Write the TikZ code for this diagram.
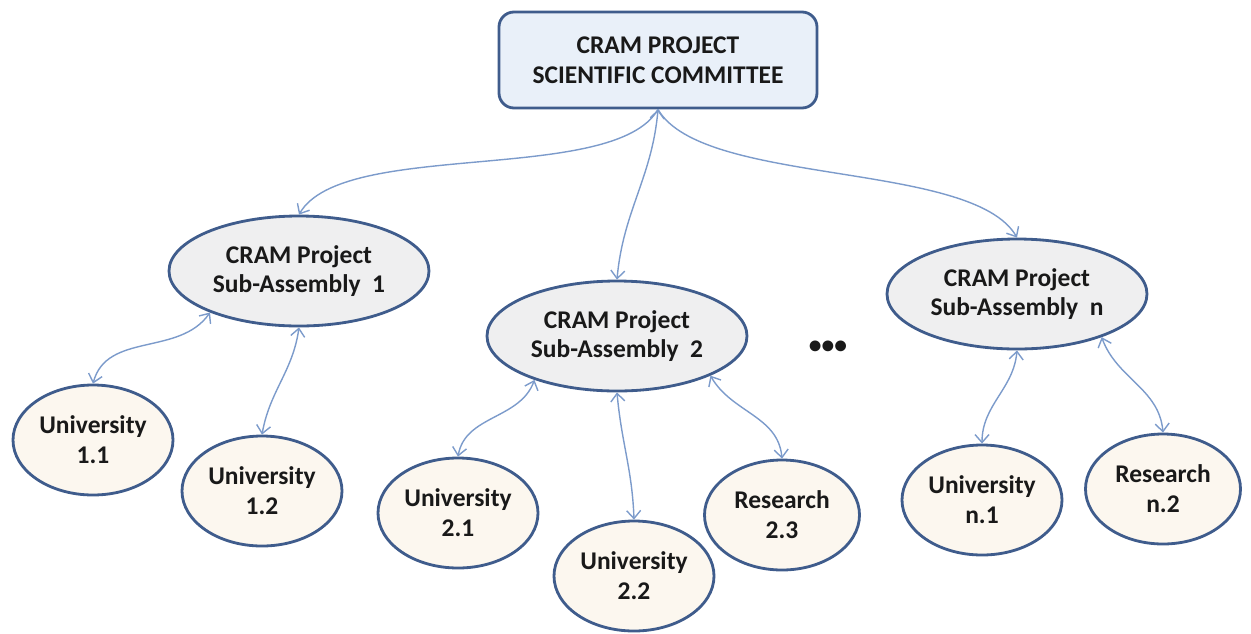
\documentclass[tikz,border=0pt]{standalone}
\usepackage{fontspec}
\setmainfont{Carlito}
\usetikzlibrary{shapes.geometric,arrows.meta}
\definecolor{boxline}{HTML}{3F5C8C}
\definecolor{topfill}{HTML}{E9F0F9}
\definecolor{subfill}{HTML}{EFEFF0}
\definecolor{unifill}{HTML}{FCF7EF}
\definecolor{linkblue}{HTML}{7C9BCB}

\begin{document}
\begin{tikzpicture}[
    boxstyle/.style={draw=boxline, line width=1.6pt, align=center, inner sep=0pt, text=black!90, font=\fontsize{14.5}{17}\selectfont\bfseries},
    topbox/.style={boxstyle, rectangle, rounded corners=0.3cm, fill=topfill, minimum width=6.36cm, minimum height=1.92cm},
    subbox/.style={boxstyle, ellipse, fill=subfill, minimum width=5.2cm, minimum height=2.2cm},
    unibox/.style={boxstyle, ellipse, fill=unifill, minimum width=3.2cm, minimum height=2.2cm},
    resbox/.style={unibox, minimum width=3.1cm},
    arrow/.style={->, >={Straight Barb[length=1.6mm,width=2.8mm]}, line width=0.8pt, linkblue},
    dblarrow/.style={arrow, <->}
]
\useasboundingbox (0,0) rectangle (25.02,-12.66);

% Committee (top)
\node[topbox] (committee) at (13.16,-1.2) {CRAM PROJECT\\SCIENTIFIC COMMITTEE};

% Sub-assemblies (middle row)
\node[subbox] (sa1) at (5.98,-5.42) {CRAM Project\\Sub-Assembly\ \ 1};
\node[subbox] (sa2) at (12.34,-6.72) {CRAM Project\\Sub-Assembly\ \ 2};
\node[subbox] (san) at (20.34,-5.88) {CRAM Project\\Sub-Assembly\ \ n};
\node[font=\fontsize{14.5}{14.5}\selectfont\bfseries, text=black!90] (dots) at (16.56,-6.94) {\textbullet\textbullet\textbullet};

% Universities and research units (bottom row)
\node[unibox] (u11) at (1.86,-8.8) {University\\1.1};
\node[unibox] (u12) at (5.24,-9.82) {University\\1.2};
\node[unibox] (u21) at (9.16,-10.26) {University\\2.1};
\node[unibox] (u22) at (12.68,-11.52) {University\\2.2};
\node[resbox] (r23) at (15.64,-10.3) {Research\\2.3};
\node[unibox] (un1) at (19.64,-10.0) {University\\n.1};
\node[resbox] (rn2) at (23.26,-9.78) {Research\\n.2};

% Committee -> sub-assemblies
\draw[arrow] (committee.south) to[out=240,in=60,looseness=0.6] (sa1.north);
\draw[dblarrow] (committee.south) to[out=265,in=85] (sa2.north);
\draw[arrow] (committee.south) to[out=300,in=120,looseness=0.6] (san.north);

% Sub-assemblies <-> members
\draw[dblarrow] (sa1.205) to[out=235,in=75] (u11.north);
\draw[dblarrow] (sa1.south) to[out=262,in=80] (u12.north);
\draw[dblarrow] (sa2.208) to[out=250,in=80] (u21.north);
\draw[dblarrow] (sa2.south) to[out=275,in=92] (u22.north);
\draw[dblarrow] (sa2.337) to[out=300,in=95] (r23.north);
\draw[dblarrow] (san.south) to[out=265,in=90] (un1.north);
\draw[dblarrow] (san.333) to[out=290,in=95] (rn2.north);

\end{tikzpicture}
\end{document}
